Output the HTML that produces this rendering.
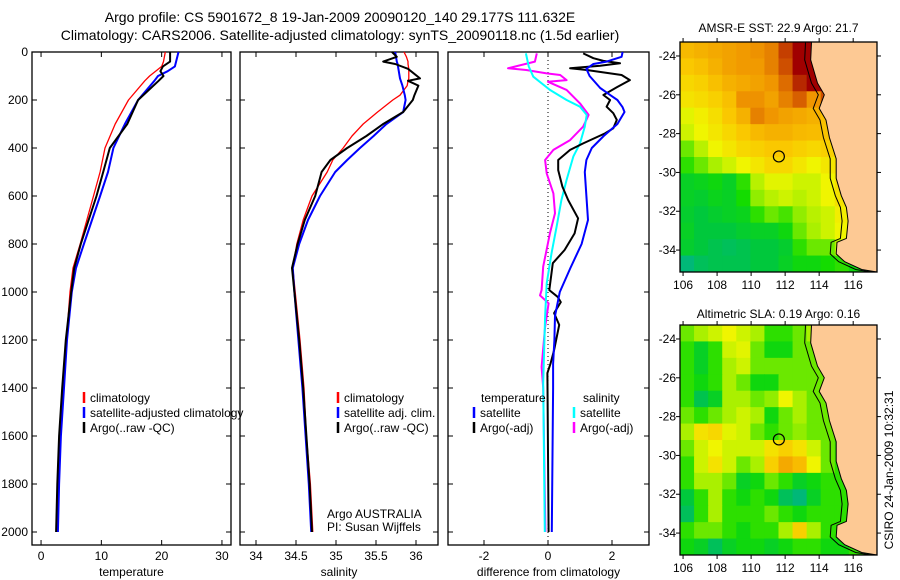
<!DOCTYPE html>
<html><head><meta charset="utf-8"><style>
body{margin:0;background:#fff;}
svg{display:block;font-family:"Liberation Sans",sans-serif;}
</style></head><body>
<svg id="c" width="900" height="580"></svg>
<script>
// ---------- data ----------
const tDepth = [0,40,60,80,100,120,200,300,400,500,600,800,900,1000,1200,1400,1600,1800,2000];
const tClim  = [20.6,20.3,20,19,18,17.2,14.5,12.3,10.6,9.8,8.7,6.5,5.3,4.8,4.2,3.7,3.2,2.8,2.6];
const tSat   = [22.8,22.4,22.2,21,19.4,18.8,16.1,13.9,12,11.1,9.8,7.1,5.8,5.1,4.3,3.8,3.3,3.0,2.8];
const tArgo  = [21.4,21.4,20.2,19.8,20.3,19.5,16.1,14.3,11.4,10.3,9.2,6.6,5.5,5.0,4.1,3.5,3.0,2.7,2.5];
const sDepth = [0,20,40,50,70,110,120,140,180,200,250,300,350,400,450,500,600,700,800,900,1000,1200,1400,1600,1800,2000];
const sClim  = [35.85,35.88,35.9,35.9,35.91,35.91,35.9,35.89,35.8,35.71,35.52,35.34,35.2,35.09,34.96,34.89,34.7,34.59,34.51,34.46,34.49,34.55,34.6,34.63,34.68,34.71];
const sSat   = [35.74,35.75,35.76,35.77,35.78,35.8,35.81,35.83,35.86,35.87,35.84,35.63,35.47,35.3,35.14,34.99,34.8,34.65,34.54,34.46,34.48,34.53,34.58,34.62,34.66,34.69];
const sArgo  = [35.7,35.76,35.59,35.74,35.9,36.05,35.9,36.03,35.98,35.96,35.84,35.59,35.38,35.14,34.93,34.82,34.74,34.61,34.52,34.45,34.48,34.54,34.59,34.63,34.67,34.7];
const dTsatDepth = [0,20,40,50,70,100,150,180,200,230,250,300,350,400,450,500,600,700,800,900,1000,1100,1200,1300,1400,2000];
const dTsat      = [2.33,2.3,1.83,1.42,1.2,1.3,1.63,1.95,2.17,2.33,2.39,2.17,1.74,1.37,1.2,1.15,1.2,1.25,1.05,0.7,0.37,0.22,0.2,0.16,0.16,0.12];
const dTargoDepth = [6,26,37,47,57,68,75,96,117,147,179,200,228,255,283,318,339,381,408,450,492,561,617,693,756,825,880,992,1020,1042,1088,1137,1242,1297,1338,2000];
const dTargo      = [1.1,1.42,1.73,2.25,1.63,0.69,1.21,2.3,2.56,2.15,1.73,1.94,1.83,2.04,2.15,2.04,1.78,1.1,0.69,0.32,0.32,0.45,0.63,0.94,0.83,0.52,0.15,0.04,0.3,0.4,0.19,0.35,0.19,0.08,-0.02,0.02];
const dSsatDepth = [6,61,103,158,200,228,262,311,381,436,533,617,728,839,964,1103,1381,2000];
const dSsat      = [-0.69,-0.6,-0.46,0.06,0.58,1.0,1.21,1.15,1.0,0.79,0.58,0.42,0.27,0.11,-0.04,-0.09,-0.15,-0.1];
const dSargoDepth = [6,40,68,75,89,96,117,124,158,214,262,311,367,408,450,506,589,672,756,894,992,1014,1047,1145,1312,1400,2000];
const dSargo      = [-0.35,-0.41,-1.25,-0.68,-0.04,0.38,0.58,0,0.58,1.0,1.27,1.1,0.69,0.17,-0.09,-0.04,0.17,0.22,0.06,-0.15,-0.2,-0.25,0.02,-0.09,-0.2,-0.15,-0.08];
const depthTicks = [0,200,400,600,800,1000,1200,1400,1600,1800,2000];
const tTicks = [0,10,20,30];
const sTicks = [34,34.5,35,35.5,36];
const sTickLabels = ["34","34.5","35","35.5","36"];
const dTicks = [-2,0,2];
const lonTicks = [106,108,110,112,114,116];
const latTicks = [-24,-26,-28,-30,-32,-34];
const sstGrid = [
[.66,.68,.7,.72,.74,.76,.8,.92,1,1,1,.5,.5,.5],
[.62,.64,.68,.72,.74,.74,.8,.9,1,1,1,.5,.5,.5],
[.58,.6,.64,.68,.7,.72,.75,.85,.95,1,1,.5,.5,.5],
[.55,.57,.6,.64,.76,.76,.72,.8,.88,.75,.9,.5,.5,.5],
[.48,.52,.56,.62,.68,.8,.75,.72,.7,.68,.64,.6,.5,.5],
[.45,.5,.54,.58,.62,.66,.68,.68,.66,.65,.63,.6,.5,.5],
[.35,.42,.5,.54,.58,.6,.62,.62,.6,.58,.6,.58,.5,.5],
[.3,.35,.4,.45,.5,.54,.58,.58,.54,.5,.54,.58,.5,.5],
[.2,.22,.25,.2,.3,.42,.48,.48,.45,.45,.5,.56,.6,.5],
[.2,.18,.22,.2,.28,.38,.42,.45,.42,.45,.5,.55,.6,.5],
[.18,.15,.18,.2,.22,.3,.35,.32,.38,.42,.45,.52,.6,.5],
[.2,.15,.15,.15,.18,.2,.2,.25,.35,.4,.45,.5,.55,.5],
[.18,.15,.12,.1,.12,.15,.15,.18,.3,.35,.35,.42,.3,.5],
[.05,.1,.12,.12,.12,.15,.15,.2,.25,.25,.28,.3,.25,.2]];
const slaGrid = [
[.35,.4,.45,.5,.45,.4,.3,.3,.35,.4,.4,.5,.5,.5],
[.3,.2,.3,.45,.48,.35,.25,.25,.35,.35,.4,.5,.5,.5],
[.3,.2,.3,.4,.45,.35,.35,.35,.35,.35,.35,.5,.5,.5],
[.3,.25,.3,.4,.35,.25,.25,.35,.35,.35,.35,.5,.5,.5],
[.3,.12,.2,.4,.4,.35,.38,.5,.4,.35,.35,.35,.5,.5],
[.35,.3,.35,.4,.45,.4,.25,.35,.4,.35,.35,.35,.5,.5],
[.4,.55,.58,.48,.45,.35,.3,.35,.38,.35,.35,.3,.5,.5],
[.35,.45,.5,.45,.45,.45,.55,.6,.55,.45,.35,.3,.5,.5],
[.3,.45,.55,.45,.35,.4,.6,.7,.65,.5,.35,.3,.3,.5],
[.3,.4,.4,.35,.2,.25,.35,.3,.2,.25,.3,.3,.3,.5],
[.15,.3,.4,.3,.25,.3,.25,.1,.05,.2,.3,.3,.3,.5],
[.1,.3,.4,.3,.3,.3,.35,.3,.25,.3,.3,.3,.35,.5],
[.3,.35,.35,.3,.25,.3,.3,.4,.6,.4,.3,.3,.3,.5],
[.25,.2,.1,.2,.25,.25,.2,.25,.3,.3,.25,.25,.3,.3]];
const coastLon = [113.55,113.5,113.9,114.3,114.0,114.4,114.6,115.0,115.0,115.3,115.6,115.7,115.6,115.05,115.0,115.5,116.5,117.4];
const coastLat = [-23.28,-24.2,-25.4,-26.0,-26.7,-27.3,-28.2,-29.3,-30.3,-31.2,-31.8,-32.5,-33.4,-33.6,-34.2,-34.6,-35.0,-35.13];
const argoLon = 111.632, argoLat = -29.177;

// ---------- helpers ----------
const NS="http://www.w3.org/2000/svg", svg=document.getElementById('c');
function el(tag,attrs,parent){const e=document.createElementNS(NS,tag);for(const k in attrs)e.setAttribute(k,attrs[k]);(parent||svg).appendChild(e);return e;}
function txt(x,y,s,size,anchor,parent){const t=el('text',{x:x,y:y,'font-size':size,'text-anchor':anchor||'middle',fill:'#000'},parent);t.textContent=s;return t;}
const Y0=52, Y1=545, D0=0, dScale=0.24;
const yD = d => Y0 + (d-D0)*dScale;
function xScale(x0,x1,v0,v1){return v=>x0+(v-v0)*(x1-x0)/(v1-v0);}

function profilePanel(name,x0,x1,v0,v1,ticks,tickLabels,xlabel,showY){
  const g=el('g',{});  
  const xs=xScale(x0,x1,v0,v1);
  el('rect',{x:x0,y:Y0,width:x1-x0,height:Y1-Y0,fill:'none',stroke:'#000','stroke-width':1.3},g);
  depthTicks.forEach(d=>{const y=yD(d);
    el('line',{x1:x0,y1:y,x2:x0+5,y2:y,stroke:'#000'},g);el('line',{x1:x1,y1:y,x2:x1-5,y2:y,stroke:'#000'},g);
    if(showY){const t=txt(x0-4,y+4,String(d),12,'end',g);}
  });
  ticks.forEach((v,i)=>{const x=xs(v);
    el('line',{x1:x,y1:Y0,x2:x,y2:Y0+5,stroke:'#000'},g);el('line',{x1:x,y1:Y1,x2:x,y2:Y1-5,stroke:'#000'},g);
    const t=txt(x,560,tickLabels[i],12,'middle',g);
  });
  const xl=txt((x0+x1)/2,576,xlabel,12,'middle',g);
  return {g,xs};
}
function line(g,xs,depths,vals,color,w,name){
  const p=vals.map((v,i)=>xs(v).toFixed(1)+','+yD(depths[i]).toFixed(1)).join(' ');
  const l=el('polyline',{points:p,fill:'none',stroke:color,'stroke-width':w,'stroke-linejoin':'round'},g);
  
}
function legend(g,x,y,color,label){
  el('line',{x1:x,y1:y-10,x2:x,y2:y+1,stroke:color,'stroke-width':2.5},g);
  const t=txt(x+6,y,label,12,'start',g);
}

let t1=txt(340,22,'Argo profile: CS 5901672_8 19-Jan-2009 20090120_140 29.177S 111.632E',14);

let t2=txt(340,40,'Climatology: CARS2006. Satellite-adjusted climatology: synTS_20090118.nc (1.5d earlier)',14);


const P1=profilePanel('temperature-panel',32,231,-1.5,31.5,tTicks,tTicks.map(String),'temperature',true);
line(P1.g,P1.xs,tDepth,tClim,'#f00',1.3,'climatology-temperature-line');
line(P1.g,P1.xs,tDepth,tSat,'#00f',2,'satellite-temperature-line');
line(P1.g,P1.xs,tDepth,tArgo,'#000',2,'argo-temperature-line');
legend(P1.g,84,402,'#f00','climatology');legend(P1.g,84,417,'#00f','satellite-adjusted climatology');legend(P1.g,84,432,'#000','Argo(..raw -QC)');

const P2=profilePanel('salinity-panel',240,438,33.8,36.275,sTicks,sTickLabels,'salinity',false);
line(P2.g,P2.xs,sDepth,sClim,'#f00',1.3,'climatology-salinity-line');
line(P2.g,P2.xs,sDepth,sSat,'#00f',2,'satellite-salinity-line');
line(P2.g,P2.xs,sDepth,sArgo,'#000',2,'argo-salinity-line');
legend(P2.g,338,402,'#f00','climatology');legend(P2.g,338,417,'#00f','satellite adj. clim.');legend(P2.g,338,432,'#000','Argo(..raw -QC)');
let a1=txt(327,518,'Argo AUSTRALIA',12,'start',P2.g);
let a2=txt(327,531,'PI: Susan Wijffels',12,'start',P2.g);

const P3=profilePanel('difference-panel',448,649,-3.125,3.156,dTicks,dTicks.map(String),'difference from climatology',false);
el('line',{x1:P3.xs(0),y1:Y0,x2:P3.xs(0),y2:Y1,stroke:'#000','stroke-dasharray':'1,3'},P3.g);
line(P3.g,P3.xs,dSargoDepth,dSargo,'#f0f',2,'salinity-argo-diff-line');
line(P3.g,P3.xs,dSsatDepth,dSsat,'#0ff',2,'salinity-satellite-diff-line');
line(P3.g,P3.xs,dTargoDepth,dTargo,'#000',2,'temperature-argo-diff-line');
line(P3.g,P3.xs,dTsatDepth,dTsat,'#00f',2,'temperature-satellite-diff-line');
let lt=txt(481,402,'temperature',12,'start',P3.g);
let ls=txt(583,402,'salinity',12,'start',P3.g);
legend(P3.g,474,417,'#00f','satellite');legend(P3.g,474,432,'#000','Argo(-adj)');
legend(P3.g,574,417,'#0ff','satellite');legend(P3.g,574,432,'#f0f','Argo(-adj)');

const stops=[[0,[0,176,150]],[0.15,[0,200,60]],[0.28,[20,220,0]],[0.4,[170,240,0]],[0.5,[240,245,0]],[0.62,[250,200,0]],[0.75,[240,150,0]],[0.88,[215,95,0]],[1,[160,0,0]]];
function cmap(v){for(let i=1;i<stops.length;i++){if(v<=stops[i][0]){const a=stops[i-1],b=stops[i],f=(v-a[0])/(b[0]-a[0]);return 'rgb('+a[1].map((c,k)=>Math.round(c+(b[1][k]-c)*f)).join(',')+')';}}return 'rgb(160,0,0)';}

function mapPanel(name,top,bottom,grid,title,titleY){
  const L=680,R=877,lon0=105.82,lon1=117.4,lat0=-23.28,lat1=-35.13;
  const xs=xScale(L,R,lon0,lon1), ys=lat=>top+(lat-lat0)*(bottom-top)/(lat1-lat0);
  const g=el('g',{});  
  const rows=grid.length, cols=grid[0].length, cw=(R-L)/cols, ch=(bottom-top)/rows;
  grid.forEach((row,r)=>row.forEach((v,c)=>{
    const cell=el('rect',{x:L+c*cw,y:top+r*ch,width:cw+0.5,height:ch+0.5,fill:cmap(v)},g);
    
  }));
  const band=coastLon.map((lo,i)=>xs(lo-0.35).toFixed(1)+','+ys(coastLat[i]).toFixed(1)).join(' ');
  const land=coastLon.map((lo,i)=>xs(lo).toFixed(1)+','+ys(coastLat[i]).toFixed(1)).join(' ');
  const lp=el('polygon',{points:land+' '+R+','+bottom+' '+R+','+top,fill:'#fdc994',stroke:'#000','stroke-width':1},g);
  
  el('polyline',{points:band,fill:'none',stroke:'#000','stroke-width':1},g);
  const ci=el('circle',{cx:xs(argoLon),cy:ys(argoLat),r:5.5,fill:'none',stroke:'#000','stroke-width':1.2},g);
  
  el('rect',{x:L,y:top,width:R-L,height:bottom-top,fill:'none',stroke:'#000','stroke-width':1.3},g);
  lonTicks.forEach(lo=>{const x=xs(lo);el('line',{x1:x,y1:top,x2:x,y2:top-4,stroke:'#000'},g);el('line',{x1:x,y1:bottom,x2:x,y2:bottom+4,stroke:'#000'},g);
    const t=txt(x,bottom+17,String(lo),12,'middle',g);});
  latTicks.forEach(la=>{const y=ys(la);el('line',{x1:L,y1:y,x2:L-4,y2:y,stroke:'#000'},g);el('line',{x1:R,y1:y,x2:R+4,y2:y,stroke:'#000'},g);
    const t=txt(L-4,y+4,String(la),12,'end',g);});
  const tt=txt((L+R)/2,titleY,title,12,'middle',g);
}
mapPanel('sst-map',42,272,sstGrid,'AMSR-E SST: 22.9 Argo: 21.7',32);
mapPanel('sla-map',325,555,slaGrid,'Altimetric SLA: 0.19 Argo: 0.16',318);
let cs=txt(0,0,'CSIRO 24-Jan-2009 10:32:31',12,'middle');
cs.setAttribute('transform','translate(893,470) rotate(-90)');

</script>
</body></html>
